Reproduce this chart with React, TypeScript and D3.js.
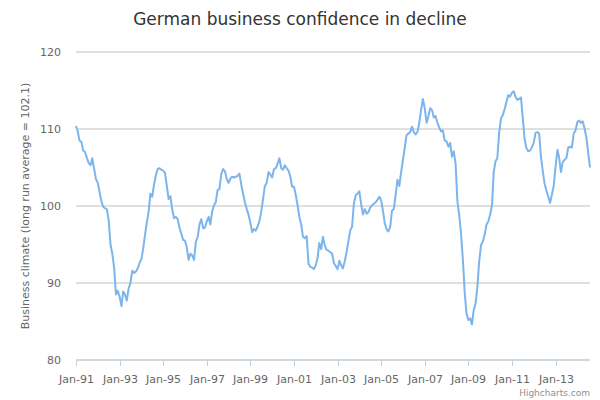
import * as d3 from "d3";

// Ifo business climate, monthly, Jan 1991 .. Aug 2014 (long run average = 102.1)
const startYear = 1991;
const climate: number[] = [
  // 1991
  110.4, 109.6, 108.5, 108.3, 107.2, 107.0, 106.3, 105.6, 105.3, 106.2, 104.8, 103.5,
  // 1992
  103.0, 101.8, 100.6, 99.9, 99.7, 99.6, 98.2, 95.0, 93.8, 92.0, 88.5, 89.0,
  // 1993
  88.2, 87.0, 88.9, 88.5, 87.7, 89.3, 90.0, 91.6, 91.3, 91.5, 91.9, 92.6,
  // 1994
  93.1, 94.5, 96.2, 97.8, 99.2, 101.6, 101.2, 102.8, 104.0, 104.8, 104.9, 104.7,
  // 1995
  104.6, 104.3, 102.7, 100.9, 101.3, 99.6, 98.4, 98.6, 98.3, 97.2, 96.4, 95.6,
  // 1996
  95.5, 94.6, 93.0, 93.8, 93.6, 93.0, 95.3, 96.0, 97.6, 98.3, 97.1, 97.2,
  // 1997
  98.0, 98.6, 97.6, 99.3, 100.1, 100.5, 102.1, 102.2, 104.2, 104.8, 104.5, 103.5,
  // 1998
  103.0, 103.6, 103.8, 103.7, 103.8, 103.9, 104.2, 102.8, 101.6, 100.5, 99.6, 98.9,
  // 1999
  97.8, 96.6, 97.0, 96.8, 97.3, 98.0, 99.2, 100.9, 102.6, 103.0, 104.4, 104.1,
  // 2000
  103.7, 104.8, 104.9, 105.5, 106.2, 104.9, 104.7, 105.3, 104.9, 104.6, 103.8, 102.5,
  // 2001
  102.5, 101.4, 100.1, 98.6, 97.6, 96.0, 95.8, 96.1, 92.5, 92.1, 92.0, 91.8,
  // 2002
  92.3, 93.3, 95.2, 94.4, 96.0, 94.9, 94.3, 94.2, 94.0, 93.8, 92.6, 92.2,
  // 2003
  91.8, 92.9, 92.3, 91.9, 92.8, 94.0, 95.4, 96.8, 97.3, 100.3, 101.4, 101.6,
  // 2004
  101.9, 100.2, 98.9, 99.6, 99.0, 99.2, 99.8, 100.1, 100.3, 100.5, 100.8, 101.2,
  // 2005
  100.7, 99.3, 97.8, 97.0, 96.7, 97.3, 99.4, 99.6, 101.5, 103.4, 102.6, 104.4,
  // 2006
  106.0, 107.6, 109.2, 109.4, 109.6, 110.3, 109.6, 109.3, 109.6, 110.8, 112.5, 113.9,
  // 2007
  112.7, 110.8, 111.6, 112.7, 112.5, 111.5, 111.7, 110.8, 110.2, 109.7, 109.8, 108.5,
  // 2008
  108.4, 107.7, 108.2, 106.4, 107.1, 105.5, 100.6, 98.8, 96.3, 93.0, 88.7, 86.0,
  // 2009
  85.2, 85.4, 84.6, 86.5, 87.3, 89.5, 92.8, 94.9, 95.4, 96.3, 97.6, 98.0,
  // 2010
  98.9, 100.1, 104.4, 105.8, 106.2, 109.5, 111.4, 111.8, 112.6, 113.5, 114.4, 114.2,
  // 2011
  114.7, 114.9, 114.2, 113.8, 113.9, 114.1, 111.5, 108.7, 107.5, 107.1, 107.2, 107.6,
  // 2012
  108.2, 109.5, 109.6, 109.4, 106.4, 104.5, 102.9, 102.0, 101.2, 100.4, 101.5, 102.6,
  // 2013
  105.1, 107.3, 106.3, 104.4, 105.7, 106.0, 106.2, 107.6, 107.7, 107.6, 109.4, 109.8,
  // 2014
  110.9, 111.1, 110.8, 111.0, 110.1, 108.9, 107.0, 105.0,
];

const yTicks = [80, 90, 100, 110, 120];
const xTickYears = [1991, 1993, 1995, 1997, 1999, 2001, 2003, 2005, 2007, 2009, 2011, 2013];

const W = 600;
const H = 400;
const plot = { left: 76, right: 590, top: 52, bottom: 360 };
const font = "'DejaVu Sans', Verdana, sans-serif";

export default function App() {
  const series = climate.map((v, i) => ({ date: new Date(startYear, i, 1), value: v }));

  const x = d3.scaleTime()
    .domain(d3.extent(series, d => d.date) as [Date, Date])
    .range([plot.left, plot.right]);
  const y = d3.scaleLinear().domain([80, 120]).range([plot.bottom, plot.top]);

  const line = d3.line<{ date: Date; value: number }>()
    .x(d => x(d.date))
    .y(d => y(d.value));

  const fmt = d3.timeFormat("%b-%y");

  return (
    <svg width={W} height={H} style={{ position: "absolute", left: 0, top: 0, background: "#fff" }}>
      <text x={W / 2} y={25} textAnchor="middle" fontFamily={font} fontSize={17} fill="#333">
        German business confidence in decline
      </text>

      {/* grid + y labels */}
      {yTicks.map(t => (
        <g key={t}>
          <line x1={plot.left} x2={plot.right} y1={y(t)} y2={y(t)} stroke="#C0C0C0" strokeWidth={1} />
          <text x={61} y={y(t) + 4} textAnchor="end" fontFamily={font} fontSize={11} fill="#666">{t}</text>
        </g>
      ))}

      <text
        transform={`translate(29,${(plot.top + plot.bottom) / 2}) rotate(-90)`}
        textAnchor="middle" fontFamily={font} fontSize={11} fill="#666"
      >
        Business climate (long run average = 102.1)
      </text>

      {/* x axis */}
      <line x1={plot.left} x2={plot.right} y1={plot.bottom} y2={plot.bottom} stroke="#C0D0E0" strokeWidth={1} />
      {xTickYears.map(yr => {
        const d = new Date(yr, 0, 1);
        const px = Math.round(x(d)) + 0.5;
        return (
          <g key={yr}>
            <line x1={px} x2={px} y1={plot.bottom} y2={plot.bottom + 6} stroke="#C0D0E0" strokeWidth={1} />
            <text x={px} y={plot.bottom + 23} textAnchor="middle" fontFamily={font} fontSize={11} fill="#666">
              {fmt(d)}
            </text>
          </g>
        );
      })}

      <path d={line(series) ?? ""} fill="none" stroke="#7cb5ec" strokeWidth={2} strokeLinejoin="round" />

      <text x={590} y={396} textAnchor="end" fontFamily={font} fontSize={9} fill="#909090">Highcharts.com</text>
    </svg>
  );
}
